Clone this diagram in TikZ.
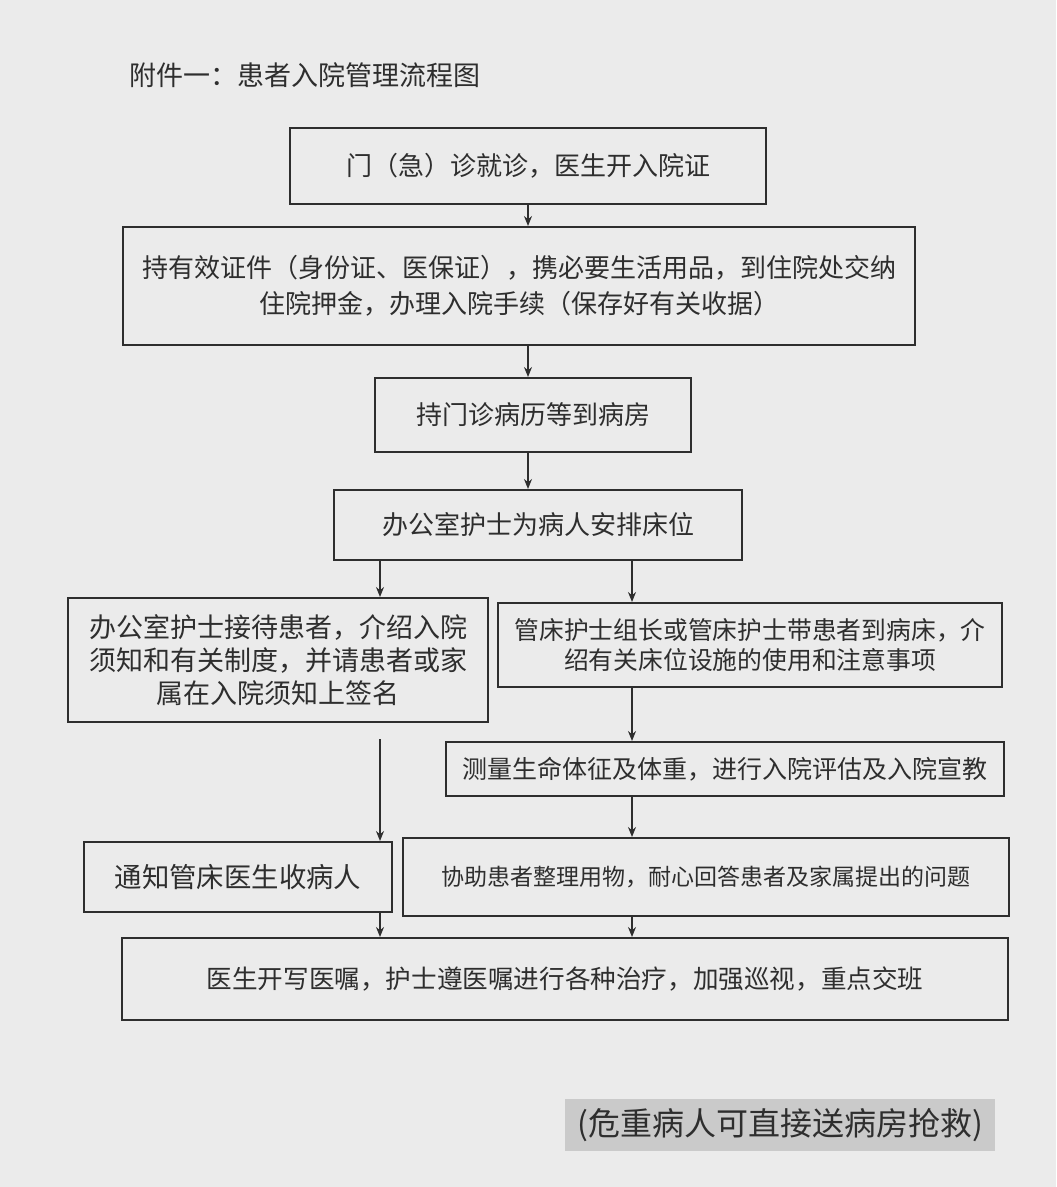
\documentclass[tikz,border=0pt]{standalone}
\usepackage{fontspec}
\newfontfamily\cjk{Noto Sans CJK SC}
\usetikzlibrary{arrows.meta,positioning}
\definecolor{paper}{HTML}{EBEBEB}
\definecolor{ink}{HTML}{2E2E2E}
\definecolor{shade}{HTML}{CACACA}
\newcommand{\cn}[2]{\cjk\fontsize{#1}{#2}\selectfont}
\tikzset{
  box/.style={draw=ink, rectangle, line width=1pt, align=center, inner sep=0pt, text=ink},
  arr/.style={-{Stealth[length=5pt,width=4pt]}, line width=0.7pt, draw=ink},
  note/.style={fill=shade, text=ink, inner sep=0pt}
}

\begin{document}
\begin{tikzpicture}[x=0.5pt, y=-0.5pt]
\fill[paper] (0,0) rectangle (1056,1187);
\useasboundingbox (0,0) rectangle (1056,1187);
% axes of the arrows
\coordinate (mx) at (528,0);
\coordinate (lx) at (380,0);
\coordinate (rx) at (632,0);
\node[anchor=west, text=ink, font=\cn{13.5}{16}] (title) at (122,75) {附件一：患者入院管理流程图};
\node[box, minimum width=238pt, minimum height=38pt, font=\cn{13}{18}] (clinic) at (528,166) {门（急）诊就诊，医生开入院证};
\node[box, minimum width=396pt, minimum height=59pt, font=\cn{13}{18}] (admit) at (519,286)
  {持有效证件（身份证、医保证），携必要生活用品，到住院处交纳\\住院押金，办理入院手续（保存好有关收据）};
\node[box, minimum width=158pt, minimum height=37pt, font=\cn{13}{18}] (ward) at (533,415) {持门诊病历等到病房};
\node[box, minimum width=204pt, minimum height=35pt, font=\cn{13}{18}] (bed) at (538,525) {办公室护士为病人安排床位};
\node[box, minimum width=210pt, minimum height=62pt, font=\cn{13.5}{16.5}] (receive) at (278,660)
  {办公室护士接待患者，介绍入院\\须知和有关制度，并请患者或家\\属在入院须知上签名};
\node[box, minimum width=252pt, minimum height=42pt, font=\cn{12.4}{15}] (guide) at (750,645)
  {管床护士组长或管床护士带患者到病床，介\\绍有关床位设施的使用和注意事项};
\node[box, minimum width=279pt, minimum height=27pt, font=\cn{12.5}{15}] (vital) at (725,769)
  {测量生命体征及体重，进行入院评估及入院宣教};
\node[box, minimum width=154pt, minimum height=35pt, font=\cn{13.7}{16}] (doctor) at (238,877) {通知管床医生收病人};
\node[box, minimum width=303pt, minimum height=39pt, font=\cn{11.5}{14}] (help) at (706,877)
  {协助患者整理用物，耐心回答患者及家属提出的问题};
\node[box, minimum width=443pt, minimum height=41pt, font=\cn{12.8}{15}] (order) at (565,979)
  {医生开写医嘱，护士遵医嘱进行各种治疗，加强巡视，重点交班};
\node[note, minimum width=215pt, minimum height=26pt, font=\cn{16}{18}] (urgent) at (780,1125) {(危重病人可直接送病房抢救)};
% connectors
\foreach \s/\t in {clinic/admit,admit/ward,ward/bed}
  \draw[arr] (\s.south -| mx) -- (\t.north -| mx);
\draw[arr] (bed.south -| lx) -- (receive.north -| lx);
\draw[arr] (bed.south -| rx) -- (guide.north -| rx);
\draw[arr] (guide.south -| rx) -- (vital.north -| rx);
\draw[arr] (vital.south -| rx) -- (help.north -| rx);
\draw[arr] ([yshift=-8pt]receive.south -| lx) -- (doctor.north -| lx);
\draw[arr] (doctor.south -| lx) -- (order.north -| lx);
\draw[arr] (help.south -| rx) -- (order.north -| rx);
\end{tikzpicture}
\end{document}
